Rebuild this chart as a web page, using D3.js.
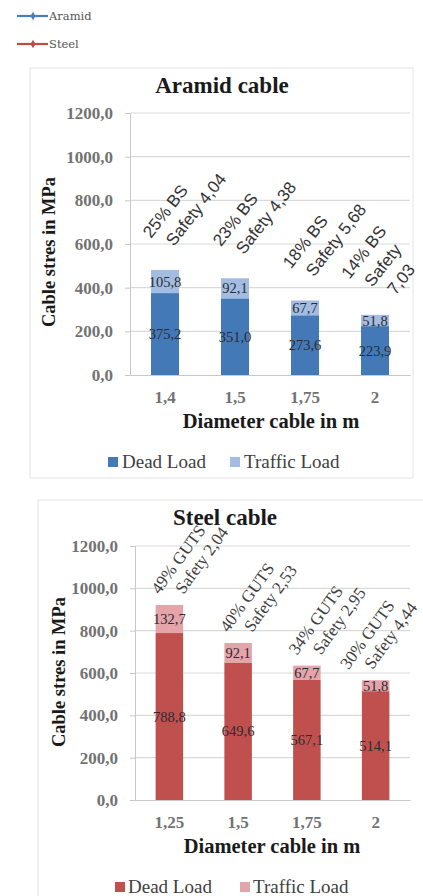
<!DOCTYPE html>
<html><head><meta charset="utf-8">
<script src="https://cdn.jsdelivr.net/npm/d3@7"></script>
<style>body{margin:0;background:#fff}svg{display:block}</style>
</head><body>
<svg id="c" width="423" height="896"></svg>
<script>
// ---- data ----
const seriesNames = ["Aramid", "Steel"];
const loadNames = ["Dead Load", "Traffic Load"];
const yTicks = [0, 200, 400, 600, 800, 1000, 1200];

const aramidDiameters = ["1,4", "1,5", "1,75", "2"];
const aramidDead = [375.2, 351.0, 273.6, 223.9];
const aramidTraffic = [105.8, 92.1, 67.7, 51.8];
const aramidNotes = [["25% BS", "Safety 4,04"], ["23% BS", "Safety 4,38"], ["18% BS", "Safety 5,68"], ["14% BS", "Safety", "7,03"]];

const steelDiameters = ["1,25", "1,5", "1,75", "2"];
const steelDead = [788.8, 649.6, 567.1, 514.1];
const steelTraffic = [132.7, 92.1, 67.7, 51.8];
const steelNotes = [["49% GUTS", "Safety 2,04"], ["40% GUTS", "Safety 2,53"], ["34% GUTS", "Safety 2,95"], ["30% GUTS", "Safety 4,44"]];

const svg = d3.select("#c");
const serif = "'Liberation Serif', serif";
const nl = d3.formatLocale({decimal: ",", thousands: "", grouping: [3], currency: ["", ""]});
const fmtTick = nl.format(".1f");
const fmtVal = nl.format(".1f");

// ---- series legend at top ----
const seriesColors = ["#4a7ebb", "#be4b48"];
const sl = svg.append("g");
seriesNames.forEach((s, i) => {
  const y = 16 + i * 28;
  sl.append("line").attr("x1", 17).attr("x2", 48).attr("y1", y).attr("y2", y)
    .attr("stroke", seriesColors[i]).attr("stroke-width", 2.2);
  sl.append("path").attr("d", d3.symbol(d3.symbolDiamond, 22)()).attr("transform", `translate(33,${y})`)
    .attr("fill", seriesColors[i]);
  sl.append("text").attr("x", 49).attr("y", y + 4).text(s)
    .attr("font-family", "'DejaVu Serif', serif").attr("font-size", 11.5).attr("fill", "#555");
});

function drawChart(o) {
  const g = svg.append("g");
  // chart area frame
  g.append("rect").attr("x", o.frame[0]).attr("y", o.frame[1]).attr("width", o.frame[2]).attr("height", o.frame[3])
    .attr("fill", "none").attr("stroke", "#e4e4e4");

  const x = d3.scaleBand().domain(o.cats).range([o.left, o.right]).paddingInner(0.6).paddingOuter(0.3);
  const y = d3.scaleLinear().domain([0, 1200]).range([o.y0, o.y1]);

  // gridlines
  g.append("g").selectAll("line").data(yTicks.filter(t => t > 0)).join("line")
    .attr("x1", o.left).attr("x2", o.right).attr("y1", d => y(d)).attr("y2", d => y(d))
    .attr("stroke", "#d9d9d9").attr("stroke-width", 1.2);

  // y axis
  const ya = g.append("g").attr("transform", `translate(${o.left},0)`)
    .call(d3.axisLeft(y).tickValues(yTicks).tickFormat(fmtTick).tickSize(5).tickPadding(12));
  ya.select(".domain").attr("stroke", "#c8c8c8");
  ya.selectAll(".tick line").attr("stroke", "#c8c8c8");
  ya.selectAll("text").attr("font-family", serif).attr("font-size", 17).attr("fill", "#5a5a5a").attr("font-weight", "bold").attr("opacity", 0.85);

  // x axis
  const xa = g.append("g").attr("transform", `translate(0,${o.y0})`)
    .call(d3.axisBottom(x).tickSize(0).tickPadding(0));
  xa.select(".domain").attr("stroke", "#c8c8c8");
  xa.selectAll("text").attr("font-family", serif).attr("font-size", 17).attr("fill", "#5a5a5a")
    .attr("font-weight", "bold").attr("opacity", 0.85).attr("dy", null).attr("y", o.xTickY - o.y0);

  // stacked bars
  const rows = o.cats.map((c, i) => ({c, dead: o.dead[i], traffic: o.traffic[i]}));
  const stack = d3.stack().keys(["dead", "traffic"])(rows);
  const colors = {dead: o.colors[0], traffic: o.colors[1]};
  stack.forEach(layer => {
    g.append("g").selectAll("rect").data(layer).join("rect")
      .attr("x", d => x(d.data.c)).attr("width", x.bandwidth())
      .attr("y", d => y(d[1])).attr("height", d => y(d[0]) - y(d[1]))
      .attr("fill", colors[layer.key]);
    g.append("g").selectAll("text").data(layer).join("text")
      .attr("x", d => x(d.data.c) + x.bandwidth() / 2)
      .attr("y", d => (y(d[0]) + y(d[1])) / 2).attr("dy", "0.35em")
      .attr("text-anchor", "middle").attr("font-family", serif).attr("font-size", 14.5)
      .attr("fill", "#2b2b33").text(d => fmtVal(d.data[layer.key]));
  });

  // rotated annotations above bars, pushed left when they would leave the chart area
  const rad = o.note.angle * Math.PI / 180;
  rows.forEach((r, i) => {
    const xc = x(r.c) + x.bandwidth() / 2;
    const yt = y(r.dead + r.traffic);
    const lines = o.notes[i];
    const n = lines.length;
    const items = lines.map((t, k) => {
      const f = k - (n - 1) / 2;
      const px = xc + o.note.bx + f * o.note.sx;
      const py = yt + o.note.by + f * o.note.sy;
      const el = g.append("text").attr("font-family", o.note.font).attr("font-size", o.note.size)
        .attr("fill", o.note.color).text(t);
      return {el, px, py, len: el.node().getComputedTextLength()};
    });
    const maxX = d3.max(items, d => d.px + d.len * Math.cos(rad));
    const shift = Math.max(0, maxX - o.note.limit);
    items.forEach(d => d.el.attr("transform", `translate(${d.px - shift},${d.py}) rotate(${o.note.angle})`));
  });

  // titles
  g.append("text").attr("x", o.titleX).attr("y", o.titleY).attr("text-anchor", "middle")
    .attr("font-family", serif).attr("font-weight", "bold").attr("font-size", 23).attr("fill", "#1a1a1a").text(o.title);
  g.append("text").attr("transform", `translate(${o.yTitleX},${o.yTitleY}) rotate(-90)`).attr("text-anchor", "middle")
    .attr("font-family", serif).attr("font-weight", "bold").attr("font-size", 18.5).attr("fill", "#1a1a1a").text("Cable stres in MPa");
  g.append("text").attr("x", o.xTitleX).attr("y", o.xTitleY).attr("text-anchor", "middle")
    .attr("font-family", serif).attr("font-weight", "bold").attr("font-size", 20.5).attr("fill", "#1a1a1a").text("Diameter cable in m");

  // load legend
  loadNames.forEach((name, i) => {
    const lx = o.legend[i];
    g.append("rect").attr("x", lx).attr("y", o.legendY - 11).attr("width", 10).attr("height", 10).attr("fill", o.colors[i]);
    g.append("text").attr("x", lx + o.legendGap).attr("y", o.legendY).attr("font-family", serif)
      .attr("font-size", 19).attr("fill", "#404040").text(name);
  });
}

drawChart({
  cats: aramidDiameters, dead: aramidDead, traffic: aramidTraffic, notes: aramidNotes,
  colors: ["#4479b8", "#a3bde2"],
  frame: [30, 68, 383, 410],
  left: 130, right: 410, y0: 375, y1: 113, xTickY: 403,
  title: "Aramid cable", titleX: 222, titleY: 93,
  yTitleX: 55, yTitleY: 252, xTitleX: 271, xTitleY: 428,
  legend: [108, 230], legendGap: 14, legendY: 468,
  note: {bx: -2.5, by: -27, sx: 23, sy: 8, angle: -52, size: 17, font: "'Liberation Sans', Arial, sans-serif", color: "#333", limit: 420}
});

drawChart({
  cats: steelDiameters, dead: steelDead, traffic: steelTraffic, notes: steelNotes,
  colors: ["#c0504d", "#e4a4aa"],
  frame: [38, 500, 400, 410],
  left: 135, right: 410, y0: 800, y1: 546, xTickY: 828,
  title: "Steel cable", titleX: 225, titleY: 525,
  yTitleX: 65, yTitleY: 672, xTitleX: 272, xTitleY: 853,
  legend: [115, 240], legendGap: 13, legendY: 893,
  note: {bx: 2, by: -10, sx: 24, sy: 0, angle: -54, size: 17, font: serif, color: "#404040", limit: 418}
});
</script>
</body></html>
